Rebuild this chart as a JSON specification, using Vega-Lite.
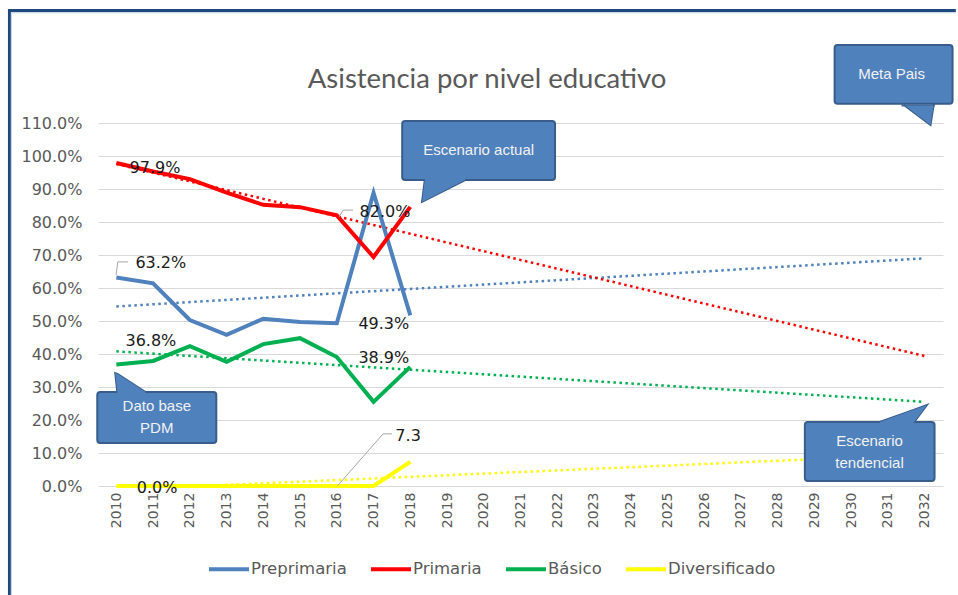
{
  "$schema": "https://vega.github.io/schema/vega-lite/v6.json",
  "width": 845,
  "height": 363,
  "autosize": {"type": "none"},
  "padding": {"left": 98, "top": 123, "right": 15, "bottom": 109},
  "background": "white",
  "config": {"view": {"stroke": null}, "font": "DejaVu Sans"},
  "datasets": {
    "series": [
      {"series": "Preprimaria", "year": 2010, "value": 63.2},
      {"series": "Preprimaria", "year": 2011, "value": 61.4},
      {"series": "Preprimaria", "year": 2012, "value": 50.3},
      {"series": "Preprimaria", "year": 2013, "value": 45.8},
      {"series": "Preprimaria", "year": 2014, "value": 50.7},
      {"series": "Preprimaria", "year": 2015, "value": 49.7},
      {"series": "Preprimaria", "year": 2016, "value": 49.3},
      {"series": "Preprimaria", "year": 2017, "value": 88.8},
      {"series": "Preprimaria", "year": 2018, "value": 51.7},
      {"series": "Primaria", "year": 2010, "value": 97.9},
      {"series": "Primaria", "year": 2011, "value": 95.3},
      {"series": "Primaria", "year": 2012, "value": 93.0},
      {"series": "Primaria", "year": 2013, "value": 88.9},
      {"series": "Primaria", "year": 2014, "value": 85.2},
      {"series": "Primaria", "year": 2015, "value": 84.5},
      {"series": "Primaria", "year": 2016, "value": 82.0},
      {"series": "Primaria", "year": 2017, "value": 69.4},
      {"series": "Primaria", "year": 2018, "value": 84.6},
      {"series": "Básico", "year": 2010, "value": 36.8},
      {"series": "Básico", "year": 2011, "value": 37.9},
      {"series": "Básico", "year": 2012, "value": 42.4},
      {"series": "Básico", "year": 2013, "value": 37.6},
      {"series": "Básico", "year": 2014, "value": 43.0},
      {"series": "Básico", "year": 2015, "value": 44.8},
      {"series": "Básico", "year": 2016, "value": 39.1},
      {"series": "Básico", "year": 2017, "value": 25.5},
      {"series": "Básico", "year": 2018, "value": 36.1},
      {"series": "Diversificado", "year": 2010, "value": 0},
      {"series": "Diversificado", "year": 2011, "value": 0},
      {"series": "Diversificado", "year": 2012, "value": 0},
      {"series": "Diversificado", "year": 2013, "value": 0},
      {"series": "Diversificado", "year": 2014, "value": 0},
      {"series": "Diversificado", "year": 2015, "value": 0},
      {"series": "Diversificado", "year": 2016, "value": 0},
      {"series": "Diversificado", "year": 2017, "value": 0},
      {"series": "Diversificado", "year": 2018, "value": 7.3}
    ],
    "trend": [
      {"series": "Preprimaria", "year": 2010, "value": 54.4},
      {"series": "Preprimaria", "year": 2032, "value": 69.0},
      {"series": "Primaria", "year": 2010, "value": 97.6},
      {"series": "Primaria", "year": 2032, "value": 39.4},
      {"series": "Básico", "year": 2010, "value": 40.8},
      {"series": "Básico", "year": 2032, "value": 25.5},
      {"series": "Diversificado", "year": 2012.3, "value": 0},
      {"series": "Diversificado", "year": 2032, "value": 9.6}
    ],
    "labels": [
      {"year": 2011.05, "value": 96.4, "label": "97.9%"},
      {"year": 2011.21, "value": 67.6, "label": "63.2%"},
      {"year": 2017.31, "value": 83.0, "label": "82.0%"},
      {"year": 2017.28, "value": 49.1, "label": "49.3%"},
      {"year": 2010.94, "value": 43.9, "label": "36.8%"},
      {"year": 2017.28, "value": 38.8, "label": "38.9%"},
      {"year": 2011.11, "value": -0.6, "label": "0.0%"},
      {"year": 2017.94, "value": 15.2, "label": "7.3"}
    ],
    "leaders": [
      {"grp": "a", "year": 2009.99, "value": 63.9},
      {"grp": "a", "year": 2010.04, "value": 67.9},
      {"grp": "a", "year": 2010.32, "value": 67.9},
      {"grp": "b", "year": 2016.06, "value": 81.5},
      {"grp": "b", "year": 2016.17, "value": 83.6},
      {"grp": "b", "year": 2016.44, "value": 83.6},
      {"grp": "c", "year": 2016.03, "value": 0.2},
      {"grp": "c", "year": 2017.26, "value": 15.8},
      {"grp": "c", "year": 2017.5, "value": 15.8}
    ],
    "boxes": [
      {"id": "actual", "year": 2017.78, "year2": 2021.94, "value": 110.6, "value2": 92.7},
      {"id": "meta", "year": 2029.55, "year2": 2032.76, "value": 133.6, "value2": 115.8},
      {"id": "base", "year": 2009.48, "year2": 2012.72, "value": 28.5, "value2": 13.0},
      {"id": "tend", "year": 2028.74, "year2": 2032.27, "value": 19.4, "value2": 1.5}
    ],
    "tails": [
      {"id": "actual", "year": 2018.32, "value": 86.1, "value2": 86.1},
      {"id": "actual", "year": 2018.4, "value": 93.2, "value2": 86.55},
      {"id": "actual", "year": 2019.49, "value": 93.2, "value2": 92.7},
      {"id": "meta", "year": 2031.4, "value": 115.3, "value2": 115.8},
      {"id": "meta", "year": 2032.16, "value": 115.3, "value2": 109.4},
      {"id": "meta", "year": 2032.25, "value": 115.3, "value2": 115.8},
      {"id": "base", "year": 2009.97, "value": 34.2, "value2": 34.2},
      {"id": "base", "year": 2010.03, "value": 34.0, "value2": 28.0},
      {"id": "base", "year": 2010.79, "value": 28.5, "value2": 28.0},
      {"id": "tend", "year": 2030.78, "value": 19.4, "value2": 18.9},
      {"id": "tend", "year": 2031.68, "value": 23.0, "value2": 18.9},
      {"id": "tend", "year": 2032.06, "value": 24.5, "value2": 24.5}
    ],
    "boxtext": [
      {"year": 2019.86, "value": 101.7, "label": "Escenario actual"},
      {"year": 2031.1, "value": 124.8, "label": "Meta Pais"},
      {"year": 2011.1, "value": 24.2, "label": "Dato base|PDM"},
      {"year": 2030.5, "value": 13.6, "label": "Escenario|tendencial"}
    ],
    "titletext": [
      {"year": 2020.09, "value": 120.6, "label": "Asistencia por nivel educativo"}
    ],
    "frame": [
      {"kind": "dark", "year": 2007.05, "year2": 2032.85, "value": 144.1, "value2": 144.1},
      {"kind": "dark", "year": 2007.09, "year2": 2007.09, "value": 144.5, "value2": -35},
      {"kind": "light", "year": 2007.15, "year2": 2032.85, "value": 143.4, "value2": 143.4},
      {"kind": "light", "year": 2007.14, "year2": 2007.14, "value": 143.4, "value2": -35}
    ]
  },
  "encoding": {
    "x": {
      "field": "year",
      "type": "quantitative",
      "scale": {"domain": [2009.5, 2032.5], "nice": false, "zero": false},
      "axis": {
        "title": null,
        "values": [2010, 2011, 2012, 2013, 2014, 2015, 2016, 2017, 2018, 2019, 2020, 2021, 2022, 2023, 2024, 2025, 2026, 2027, 2028, 2029, 2030, 2031, 2032],
        "format": "d",
        "labelAngle": 270,
        "labelFont": "DejaVu Sans",
        "labelFontSize": 14,
        "labelColor": "#595959",
        "labelPadding": 6,
        "ticks": false,
        "domain": false,
        "grid": false,
        "labelOverlap": false
      }
    },
    "y": {
      "field": "value",
      "type": "quantitative",
      "scale": {"domain": [0, 110], "nice": false, "zero": false},
      "axis": {
        "title": null,
        "values": [0, 10, 20, 30, 40, 50, 60, 70, 80, 90, 100, 110],
        "labelExpr": "format(datum.value, '.1f') + '%'",
        "labelFont": "DejaVu Sans",
        "labelFontSize": 16,
        "labelColor": "#595959",
        "labelPadding": 16,
        "ticks": false,
        "domain": false,
        "grid": true,
        "gridColor": "#D9D9D9",
        "gridWidth": 1
      }
    }
  },
  "layer": [
    {
      "data": {"name": "frame"},
      "transform": [{"filter": "datum.kind == 'dark'"}],
      "mark": {"type": "rule", "color": "#1F497D", "strokeWidth": 3},
      "encoding": {"x2": {"field": "year2"}, "y2": {"field": "value2"}}
    },
    {
      "data": {"name": "frame"},
      "transform": [{"filter": "datum.kind == 'light'"}],
      "mark": {"type": "rule", "color": "#B9CDE5", "strokeWidth": 1},
      "encoding": {"x2": {"field": "year2"}, "y2": {"field": "value2"}}
    },
    {
      "data": {"name": "titletext"},
      "mark": {"type": "text", "font": "Lato", "fontSize": 27.5, "color": "#595959", "align": "center", "baseline": "alphabetic"},
      "encoding": {"text": {"field": "label"}}
    },
    {
      "data": {"name": "trend"},
      "mark": {"type": "line", "strokeWidth": 2.5, "strokeDash": [2.5, 3.5]},
      "encoding": {
        "color": {"field": "series", "type": "nominal"}
      }
    },
    {
      "data": {"name": "series"},
      "mark": {"type": "line", "strokeWidth": 4},
      "encoding": {
        "color": {
          "field": "series",
          "type": "nominal",
          "scale": {
            "domain": ["Preprimaria", "Primaria", "Básico", "Diversificado"],
            "range": ["#4F81BD", "#FF0000", "#00B050", "#FFFF00"]
          },
          "legend": {
            "title": null,
            "orient": "none",
            "legendX": 109,
            "legendY": 424,
            "direction": "horizontal",
            "symbolType": "stroke",
            "symbolSize": 1600,
            "symbolStrokeWidth": 4,
            "symbolDash": [],
            "labelFont": "DejaVu Sans",
            "labelFontSize": 16.5,
            "labelColor": "#595959",
            "labelOffset": 0,
            "columnPadding": 16
          }
        }
      }
    },
    {
      "data": {"name": "leaders"},
      "mark": {"type": "line", "color": "#A6A6A6", "strokeWidth": 1},
      "encoding": {"detail": {"field": "grp"}}
    },
    {
      "data": {"name": "labels"},
      "mark": {"type": "text", "font": "DejaVu Sans", "fontSize": 16, "color": "#1a1a1a", "align": "center", "baseline": "middle"},
      "encoding": {"text": {"field": "label"}}
    },
    {
      "data": {"name": "tails"},
      "mark": {"type": "area", "orient": "vertical", "fill": "#4F81BD", "stroke": "#385D8A", "strokeWidth": 2, "opacity": 1},
      "encoding": {"y2": {"field": "value2"}, "detail": {"field": "id"}}
    },
    {
      "data": {"name": "boxes"},
      "mark": {"type": "rect", "fill": "#4F81BD", "stroke": "#385D8A", "strokeWidth": 2, "cornerRadius": 3},
      "encoding": {"x2": {"field": "year2"}, "y2": {"field": "value2"}}
    },
    {
      "data": {"name": "tails"},
      "mark": {"type": "area", "orient": "vertical", "fill": "#4F81BD", "opacity": 1},
      "encoding": {"y2": {"field": "value2"}, "detail": {"field": "id"}}
    },
    {
      "data": {"name": "boxtext"},
      "mark": {"type": "text", "font": "Liberation Sans", "fontSize": 15, "color": "#F2F2F2", "align": "center", "baseline": "middle", "lineBreak": "|", "lineHeight": 22},
      "encoding": {"text": {"field": "label"}}
    }
  ]
}
